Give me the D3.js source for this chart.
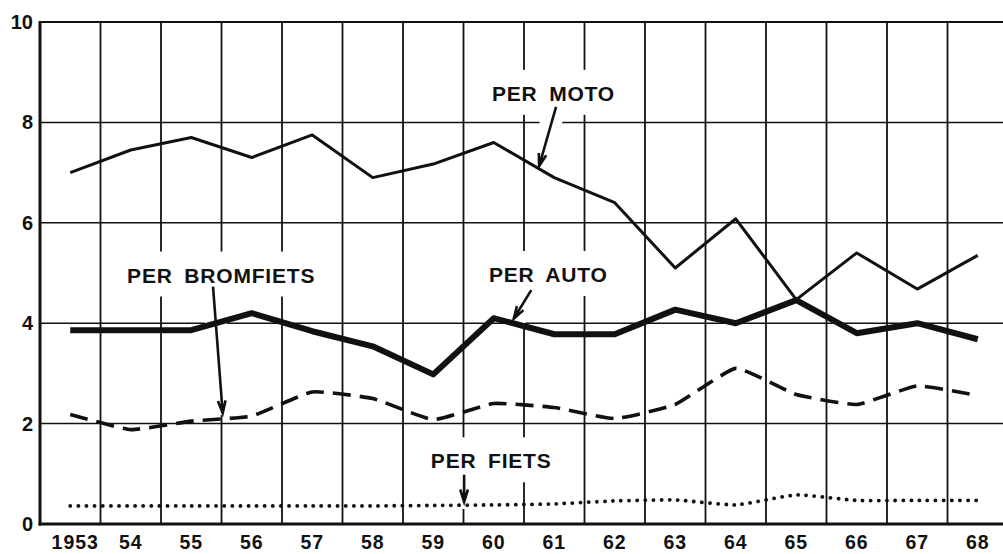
<!DOCTYPE html>
<html><head><meta charset="utf-8">
<script src="https://cdn.jsdelivr.net/npm/d3@7"></script>
<style>
html,body{margin:0;padding:0;background:#fff;}
svg{display:block;}
text{font-family:"Liberation Sans",Arial,sans-serif;font-weight:bold;fill:#111;}
</style></head>
<body>
<svg id="chart" width="1003" height="554"></svg>
<script>
const years = ["1953","54","55","56","57","58","59","60","61","62","63","64","65","66","67","68"];
const yTicks = [0,2,4,6,8,10];
const moto      = [7.0,7.45,7.7,7.3,7.75,6.9,7.17,7.6,6.9,6.4,5.1,6.08,4.47,5.4,4.68,5.35];
const auto      = [3.86,3.86,3.86,4.2,3.84,3.54,2.98,4.1,3.78,3.78,4.27,4.0,4.46,3.8,4.0,3.68];
const bromfiets = [2.18,1.88,2.05,2.15,2.63,2.5,2.08,2.4,2.32,2.1,2.38,3.1,2.58,2.38,2.75,2.56];
const fiets     = [0.36,0.36,0.36,0.36,0.36,0.36,0.37,0.38,0.4,0.46,0.48,0.38,0.58,0.47,0.47,0.47];

// annotation anchors in data units (x = year index, y = value)
const labelText  = ["PER MOTO","PER BROMFIETS","PER AUTO","PER FIETS"];
const labelX     = [6.97, 0.94, 6.92, 5.96];
const labelY     = [8.43, 4.81, 4.82, 1.11];
const arrowFrom  = [[8.03,8.31],[2.36,4.73],[7.62,4.66],[6.51,0.98]];
const arrowTo    = [[7.75,7.13],[2.52,2.21],[7.33,4.09],[6.51,0.44]];

const svg = d3.select("#chart");
const mLeft = 40, mTop = 22, mBottom = 524, cell = 60.5;
const x = d3.scaleBand().domain(years).range([mLeft, mLeft + cell*years.length]).padding(0);
const xc = d => x(d) + x.bandwidth()/2;
const xi = d3.scaleLinear().domain([0, years.length-1]).range([xc(years[0]), xc(years[years.length-1])]);
const y = d3.scaleLinear().domain([0,10]).range([mBottom, mTop]);
const mRight = x.range()[1];
const labStyle = s => s.style("font-size","21px").style("letter-spacing","0.8px").style("word-spacing","5px");

// grid
const grid = svg.append("g");
grid.selectAll("line.h").data(yTicks.filter(v => v>0 && v<10)).join("line")
  .attr("x1", mLeft).attr("x2", mRight).attr("y1", d=>y(d)).attr("y2", d=>y(d))
  .attr("stroke","#111").attr("stroke-width",1.5);
grid.selectAll("line.v").data(years.slice(1)).join("line")
  .attr("x1", d=>x(d)).attr("x2", d=>x(d)).attr("y1", mTop).attr("y2", mBottom)
  .attr("stroke","#111").attr("stroke-width",1.8);

// masks (gaps in grid under labels & arrows)
const masks = svg.append("g");
labelText.forEach((t,i) => {
  const tmp = svg.append("text").attr("x", xi(labelX[i])).attr("y", y(labelY[i])).call(labStyle).text(t);
  const b = tmp.node().getBBox(); tmp.remove();
  masks.append("rect").attr("x", b.x-8).attr("y", b.y-12).attr("width", b.width+16).attr("height", b.height+22).attr("fill","#fff");
  const [a1,b1] = arrowFrom[i], [a2,b2] = arrowTo[i];
  masks.append("line").attr("x1", xi(a1)).attr("y1", y(b1)-4).attr("x2", xi(a2)).attr("y2", y(b2)+ (i===3?7:2))
    .attr("stroke","#fff").attr("stroke-width", i===3 ? 10 : 22);
});

// frame
svg.append("line").attr("x1", mLeft).attr("x2", mRight).attr("y1", mTop).attr("y2", mTop).attr("stroke","#111").attr("stroke-width",2.2);
svg.append("line").attr("x1", mLeft).attr("x2", mLeft).attr("y1", mTop-1).attr("y2", mBottom+1.5).attr("stroke","#111").attr("stroke-width",3);
svg.append("line").attr("x1", mLeft-1.5).attr("x2", mRight).attr("y1", mBottom).attr("y2", mBottom).attr("stroke","#111").attr("stroke-width",3.2);

// axes labels
const ya = svg.append("g").attr("transform", `translate(${mLeft},0)`)
  .call(d3.axisLeft(y).tickValues(yTicks).tickSize(0).tickPadding(7).tickFormat(d3.format("d")));
ya.select(".domain").remove();
ya.selectAll("text").style("font-size","20px").style("font-family","Liberation Sans, Arial, sans-serif").attr("fill","#111");
const xa = svg.append("g").attr("transform", `translate(0,${mBottom})`)
  .call(d3.axisBottom(x).tickSize(0).tickPadding(11));
xa.select(".domain").remove();
xa.selectAll("text").style("font-size","19.5px").style("letter-spacing","1px").style("font-family","Liberation Sans, Arial, sans-serif").attr("fill","#111")
  .attr("dx", (d,i) => i===0 ? 5 : 0);

// series
const lin = d3.line().x((d,i)=>xc(years[i])).y(d=>y(d));
const smooth = d3.line().x((d,i)=>xc(years[i])).y(d=>y(d)).curve(d3.curveCardinal.tension(0.6));
svg.append("path").datum(fiets).attr("d", smooth).attr("fill","none").attr("stroke","#111")
  .attr("stroke-width",3.8).attr("stroke-linecap","round").attr("stroke-dasharray","0.1 8");
svg.append("path").datum(bromfiets).attr("d", smooth).attr("fill","none").attr("stroke","#111")
  .attr("stroke-width",3.6).attr("stroke-dasharray","18 9");
svg.append("path").datum(moto).attr("d", lin).attr("fill","none").attr("stroke","#111")
  .attr("stroke-width",3).attr("stroke-linejoin","round");
svg.append("path").datum(auto).attr("d", lin).attr("fill","none").attr("stroke","#111")
  .attr("stroke-width",6).attr("stroke-linejoin","round");

// labels + arrows
labelText.forEach((t,i) => {
  svg.append("text").attr("x", xi(labelX[i])).attr("y", y(labelY[i])).call(labStyle).text(t);
  const [a1,b1] = arrowFrom[i], [a2,b2] = arrowTo[i];
  const x1 = xi(a1), y1 = y(b1), x2 = xi(a2), y2 = y(b2);
  const ang = Math.atan2(y2-y1, x2-x1), L = 13, sp = 0.3;
  const p = d3.path();
  p.moveTo(x1,y1); p.lineTo(x2,y2);
  p.moveTo(x2 - L*Math.cos(ang-sp), y2 - L*Math.sin(ang-sp)); p.lineTo(x2,y2);
  p.lineTo(x2 - L*Math.cos(ang+sp), y2 - L*Math.sin(ang+sp));
  svg.append("path").attr("d", p.toString()).attr("fill","none").attr("stroke","#111")
    .attr("stroke-width",2.6).attr("stroke-linejoin","miter");
});
</script>
</body></html>
